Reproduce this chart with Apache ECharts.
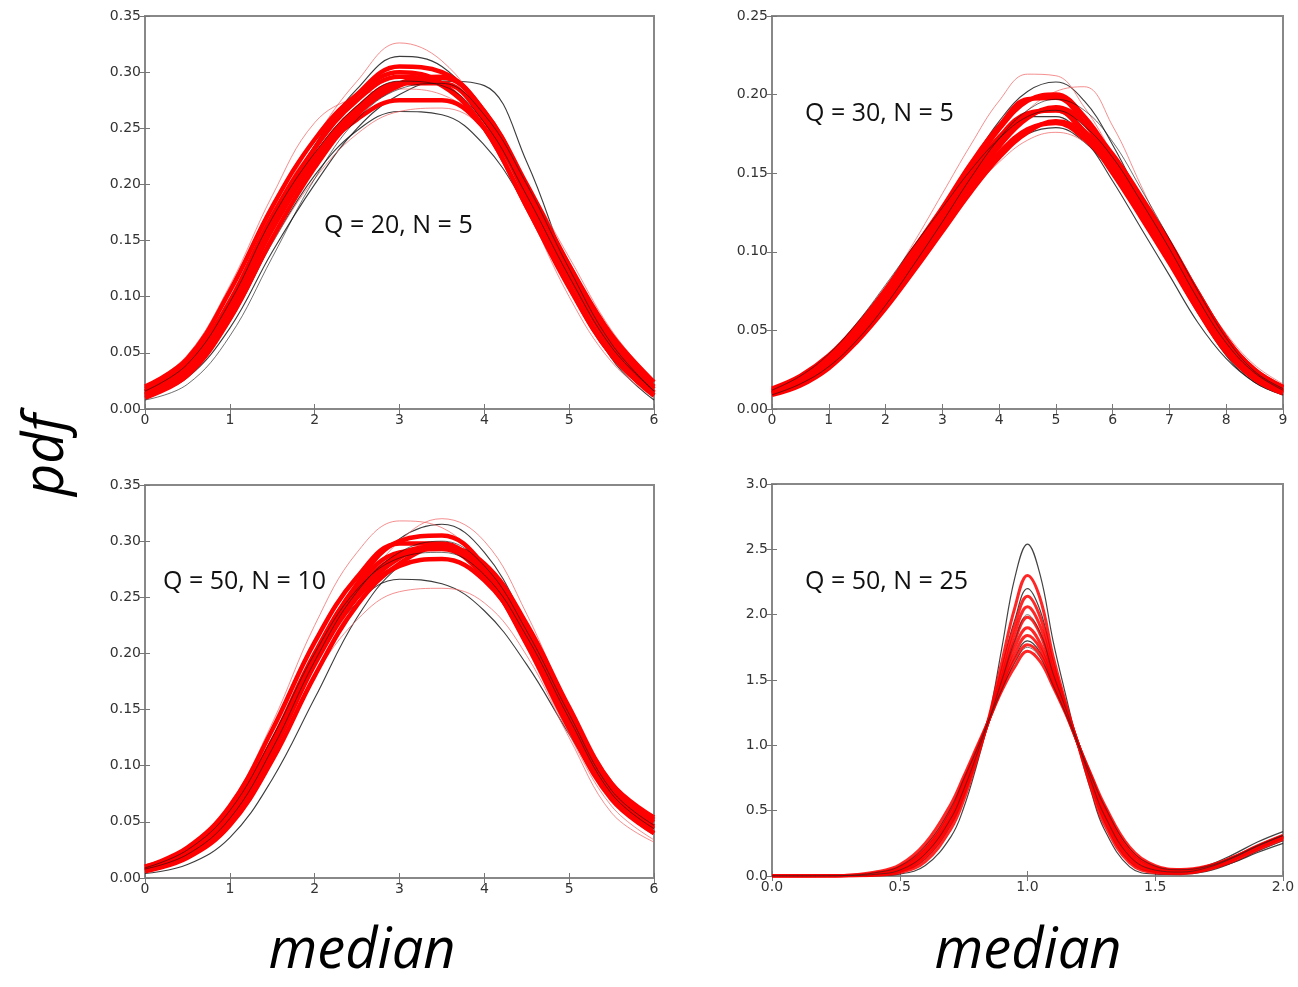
<!DOCTYPE html>
<html><head><meta charset="utf-8">
<script src="https://cdn.jsdelivr.net/npm/echarts@6/dist/echarts.min.js"></script>
<style>html,body{margin:0;padding:0;background:#fff}#c{width:1298px;height:987px}</style>
</head><body><div id="c"></div>
<script>
// ---------- Panel 1: Q = 20, N = 5 ----------
const panel1X = [0,0.5,1,1.5,2,2.5,3,3.5,4,4.5,5,5.5,6];
const panel1Red = [
  [0.020,0.045,0.105,0.180,0.240,0.280,0.300,0.290,0.250,0.180,0.108,0.048,0.012],
  [0.010,0.030,0.080,0.152,0.215,0.262,0.288,0.295,0.265,0.200,0.128,0.062,0.020],
  [0.018,0.042,0.095,0.165,0.222,0.258,0.275,0.275,0.250,0.195,0.128,0.066,0.024],
  [0.012,0.033,0.085,0.163,0.232,0.280,0.305,0.300,0.262,0.188,0.110,0.048,0.012],
  [0.015,0.037,0.090,0.165,0.225,0.268,0.290,0.290,0.257,0.190,0.118,0.055,0.015],
  [0.016,0.040,0.096,0.172,0.232,0.275,0.296,0.288,0.250,0.180,0.110,0.050,0.014],
  [0.013,0.034,0.086,0.160,0.220,0.265,0.290,0.296,0.265,0.198,0.125,0.060,0.018]
];
const panel1RedThin = [
  [0.015,0.040,0.095,0.172,0.240,0.292,0.326,0.310,0.260,0.180,0.100,0.042,0.010],
  [0.020,0.048,0.110,0.190,0.255,0.278,0.285,0.280,0.250,0.180,0.108,0.048,0.013],
  [0.012,0.032,0.080,0.148,0.205,0.245,0.265,0.268,0.250,0.200,0.135,0.070,0.025]
];
const panel1Black = [
  [0.010,0.028,0.072,0.140,0.200,0.250,0.280,0.292,0.288,0.220,0.122,0.045,0.008],
  [0.014,0.036,0.090,0.168,0.235,0.285,0.314,0.305,0.260,0.185,0.108,0.046,0.012],
  [0.012,0.030,0.078,0.148,0.208,0.248,0.265,0.262,0.235,0.180,0.115,0.055,0.016],
  [0.008,0.022,0.065,0.135,0.205,0.258,0.285,0.290,0.262,0.200,0.125,0.058,0.016],
  [0.016,0.040,0.095,0.170,0.228,0.270,0.292,0.288,0.255,0.190,0.118,0.055,0.016]
];

// ---------- Panel 2: Q = 30, N = 5 ----------
const panel2X = [0,0.5,1,1.5,2,2.5,3,3.5,4,4.5,5,5.5,6,6.5,7,7.5,8,8.5,9];
const panel2Red = [
  [0.013,0.021,0.034,0.053,0.076,0.102,0.128,0.156,0.180,0.197,0.198,0.182,0.156,0.125,0.095,0.063,0.036,0.019,0.010],
  [0.009,0.015,0.026,0.043,0.064,0.088,0.113,0.138,0.160,0.176,0.183,0.176,0.158,0.133,0.105,0.074,0.045,0.025,0.014],
  [0.011,0.018,0.030,0.048,0.070,0.095,0.120,0.147,0.170,0.187,0.190,0.177,0.155,0.128,0.100,0.068,0.040,0.022,0.012],
  [0.010,0.017,0.029,0.047,0.070,0.096,0.123,0.152,0.178,0.196,0.200,0.186,0.160,0.130,0.099,0.066,0.038,0.020,0.011],
  [0.012,0.020,0.032,0.050,0.071,0.095,0.118,0.142,0.163,0.178,0.182,0.172,0.152,0.127,0.100,0.070,0.043,0.024,0.013],
  [0.011,0.018,0.031,0.049,0.072,0.098,0.124,0.150,0.173,0.188,0.190,0.175,0.150,0.122,0.093,0.063,0.037,0.020,0.011],
  [0.010,0.017,0.028,0.046,0.067,0.092,0.117,0.143,0.167,0.185,0.192,0.182,0.162,0.135,0.106,0.074,0.045,0.025,0.014]
];
const panel2RedThin = [
  [0.011,0.019,0.032,0.052,0.077,0.106,0.137,0.168,0.196,0.213,0.212,0.192,0.162,0.128,0.095,0.062,0.035,0.018,0.010],
  [0.009,0.015,0.026,0.043,0.064,0.090,0.117,0.145,0.170,0.190,0.202,0.205,0.180,0.142,0.104,0.068,0.038,0.020,0.010],
  [0.012,0.020,0.032,0.050,0.071,0.094,0.116,0.138,0.157,0.171,0.176,0.170,0.153,0.130,0.104,0.075,0.048,0.028,0.016]
];
const panel2Black = [
  [0.010,0.017,0.029,0.047,0.070,0.097,0.126,0.156,0.183,0.202,0.208,0.196,0.168,0.133,0.097,0.062,0.034,0.017,0.009],
  [0.010,0.017,0.030,0.050,0.074,0.100,0.126,0.152,0.173,0.186,0.186,0.172,0.145,0.115,0.085,0.055,0.032,0.017,0.009],
  [0.012,0.020,0.033,0.051,0.073,0.097,0.120,0.143,0.162,0.175,0.179,0.170,0.150,0.125,0.098,0.070,0.044,0.025,0.014],
  [0.012,0.021,0.035,0.055,0.079,0.104,0.128,0.152,0.172,0.186,0.190,0.180,0.160,0.132,0.102,0.070,0.042,0.023,0.012],
  [0.009,0.016,0.027,0.044,0.066,0.092,0.119,0.147,0.172,0.190,0.197,0.190,0.170,0.140,0.108,0.075,0.045,0.024,0.013]
];

// ---------- Panel 3: Q = 50, N = 10 ----------
const panel3X = [0,0.5,1,1.5,2,2.5,3,3.5,4,4.5,5,5.5,6];
const panel3Red = [
  [0.010,0.027,0.064,0.132,0.210,0.268,0.298,0.298,0.270,0.208,0.133,0.070,0.040],
  [0.006,0.018,0.047,0.105,0.180,0.243,0.280,0.295,0.280,0.226,0.152,0.084,0.052],
  [0.008,0.022,0.055,0.118,0.195,0.255,0.288,0.295,0.272,0.215,0.140,0.076,0.046],
  [0.007,0.020,0.052,0.116,0.197,0.262,0.300,0.305,0.278,0.215,0.138,0.072,0.040],
  [0.010,0.025,0.060,0.122,0.195,0.250,0.278,0.284,0.265,0.214,0.148,0.084,0.054],
  [0.008,0.023,0.057,0.122,0.200,0.260,0.290,0.293,0.268,0.210,0.138,0.074,0.044],
  [0.007,0.020,0.050,0.112,0.190,0.250,0.285,0.296,0.276,0.220,0.147,0.080,0.050]
];
const panel3RedThin = [
  [0.010,0.027,0.066,0.138,0.225,0.290,0.318,0.312,0.275,0.205,0.128,0.064,0.034],
  [0.006,0.017,0.046,0.104,0.180,0.250,0.300,0.320,0.300,0.235,0.150,0.078,0.040],
  [0.009,0.022,0.054,0.112,0.180,0.230,0.255,0.258,0.245,0.198,0.125,0.058,0.032]
];
const panel3Black = [
  [0.007,0.020,0.050,0.110,0.190,0.260,0.302,0.315,0.290,0.225,0.145,0.077,0.045],
  [0.008,0.022,0.055,0.118,0.192,0.245,0.266,0.262,0.238,0.190,0.128,0.070,0.040],
  [0.004,0.012,0.036,0.088,0.160,0.232,0.278,0.295,0.280,0.225,0.150,0.085,0.050],
  [0.009,0.025,0.060,0.125,0.200,0.257,0.285,0.290,0.270,0.215,0.142,0.075,0.044],
  [0.008,0.021,0.053,0.115,0.193,0.255,0.290,0.300,0.278,0.220,0.146,0.078,0.047]
];

// ---------- Panel 4: Q = 50, N = 25 ----------
const panel4X = [0,0.2,0.3,0.4,0.5,0.6,0.7,0.75,0.8,0.85,0.9,0.95,1.0,1.05,1.1,1.15,1.2,1.25,1.3,1.4,1.5,1.6,1.7,1.8,1.9,2.0];
const panel4Red = [
  [0,0,0.001,0.006,0.026,0.110,0.360,0.580,0.880,1.220,1.640,2.050,2.300,2.120,1.680,1.320,0.990,0.670,0.400,0.100,0.025,0.018,0.045,0.110,0.200,0.280],
  [0,0,0.001,0.009,0.035,0.140,0.400,0.620,0.900,1.210,1.570,1.920,2.140,1.980,1.620,1.300,1.000,0.700,0.440,0.120,0.035,0.024,0.052,0.120,0.210,0.290],
  [0,0,0.002,0.010,0.040,0.155,0.420,0.640,0.910,1.200,1.530,1.860,2.060,1.910,1.580,1.290,1.000,0.710,0.450,0.135,0.040,0.027,0.056,0.125,0.215,0.295],
  [0,0,0.002,0.012,0.045,0.170,0.440,0.660,0.920,1.200,1.500,1.800,1.980,1.850,1.550,1.280,1.000,0.720,0.470,0.150,0.045,0.030,0.060,0.130,0.220,0.300],
  [0,0,0.003,0.015,0.052,0.185,0.460,0.680,0.930,1.200,1.480,1.750,1.900,1.780,1.520,1.270,1.000,0.730,0.490,0.165,0.052,0.034,0.063,0.132,0.222,0.302],
  [0,0,0.004,0.018,0.060,0.200,0.480,0.700,0.940,1.200,1.460,1.700,1.840,1.740,1.500,1.260,1.000,0.740,0.500,0.180,0.060,0.040,0.067,0.135,0.225,0.305],
  [0,0.001,0.005,0.022,0.070,0.220,0.510,0.730,0.960,1.200,1.440,1.650,1.770,1.690,1.470,1.250,1.000,0.760,0.530,0.200,0.070,0.045,0.070,0.138,0.228,0.308],
  [0,0.001,0.006,0.028,0.085,0.250,0.550,0.760,0.980,1.200,1.420,1.600,1.720,1.640,1.450,1.240,1.000,0.770,0.550,0.220,0.080,0.050,0.075,0.140,0.230,0.310]
];
const panel4Black = [
  [0,0,0,0.003,0.015,0.080,0.300,0.520,0.840,1.220,1.750,2.280,2.540,2.300,1.800,1.380,0.980,0.640,0.360,0.070,0.015,0.012,0.035,0.100,0.190,0.270],
  [0,0.001,0.004,0.020,0.066,0.210,0.500,0.720,0.950,1.200,1.450,1.670,1.800,1.710,1.480,1.250,1.000,0.750,0.520,0.190,0.065,0.042,0.078,0.160,0.260,0.340],
  [0,0,0.001,0.008,0.032,0.130,0.390,0.610,0.890,1.210,1.600,1.960,2.200,2.030,1.650,1.310,1.000,0.690,0.420,0.110,0.030,0.022,0.050,0.100,0.180,0.250],
  [0,0.001,0.005,0.024,0.075,0.230,0.520,0.740,0.960,1.200,1.430,1.630,1.750,1.670,1.460,1.240,1.000,0.760,0.540,0.210,0.075,0.048,0.072,0.140,0.232,0.310],
  [0,0,0.002,0.012,0.045,0.170,0.440,0.660,0.920,1.200,1.500,1.800,2.000,1.860,1.550,1.280,1.000,0.720,0.470,0.150,0.045,0.030,0.062,0.135,0.228,0.310]
];

// ---------- labels ----------
const panelLabels = ['Q = 20, N = 5', 'Q = 30, N = 5', 'Q = 50, N = 10', 'Q = 50, N = 25'];
const xAxisTitle = 'median';
const yAxisTitle = 'pdf';

const grids = [
  {left:145, top:16, width:509, height:393},
  {left:772, top:16, width:511, height:393},
  {left:145, top:485, width:509, height:393},
  {left:772, top:484, width:511, height:392}
];
const xRanges = [[0,6,1,0],[0,9,1,0],[0,6,1,0],[0,2,0.5,1]];
const yRanges = [[0,0.35,0.05,2],[0,0.25,0.05,2],[0,0.35,0.05,2],[0,3,0.5,1]];

const tickStyle = {show:true, inside:true, length:5, lineStyle:{color:'#777', width:1}};
const labelStyle = {color:'#333', fontSize:14, fontFamily:'DejaVu Sans'};

const xAxes = [], yAxes = [];
grids.forEach((g, gi) => {
  const xr = xRanges[gi], yr = yRanges[gi];
  ['bottom','top'].forEach((pos, k) => {
    xAxes.push({type:'value', gridIndex:gi, position:pos, min:xr[0], max:xr[1], interval:xr[2],
      axisLine:{show:false}, axisTick:tickStyle, splitLine:{show:false},
      axisLabel: k === 0 ? Object.assign({show:true, margin:4, formatter: v => v.toFixed(xr[3])}, labelStyle) : {show:false}});
  });
  ['left','right'].forEach((pos, k) => {
    yAxes.push({type:'value', gridIndex:gi, position:pos, min:yr[0], max:yr[1], interval:yr[2],
      axisLine:{show:false}, axisTick:tickStyle, splitLine:{show:false},
      axisLabel: k === 0 ? Object.assign({show:true, margin:4, formatter: v => v.toFixed(yr[3])}, labelStyle) : {show:false}});
  });
});

const series = [];
function addLine(xs, ys, gi, style, z) {
  series.push({type:'line', xAxisIndex:gi*2, yAxisIndex:gi*2, data: xs.map((x,i)=>[x, ys[i]]),
    smooth:0.4, showSymbol:false, symbol:'none', silent:true,
    lineStyle: style, z: z, animation:false});
}
const blackUnder = {color:'#1a1a1a', width:1.1, opacity:0.85};
const blackOver = {color:'#111', width:1, opacity:0.6};
const redThick = {color:'#ff0000', width:4.5, opacity:1};
const redThin = {color:'#f06060', width:1, opacity:0.7};

const panels = [
  [panel1X, panel1Red, panel1RedThin, panel1Black],
  [panel2X, panel2Red, panel2RedThin, panel2Black],
  [panel3X, panel3Red, panel3RedThin, panel3Black]
];
panels.forEach((p, gi) => {
  const [xs, reds, thins, blacks] = p;
  blacks.slice(0,3).forEach(ys => addLine(xs, ys, gi, blackUnder, 2));
  thins.forEach(ys => addLine(xs, ys, gi, redThin, 3));
  reds.forEach(ys => addLine(xs, ys, gi, redThick, 4));
  blacks.slice(3).forEach(ys => addLine(xs, ys, gi, blackOver, 5));
});
// panel 4
panel4Black.slice(0,3).forEach(ys => addLine(panel4X, ys, 3, {color:'#222', width:1.2, opacity:0.85}, 2));
panel4Red.forEach(ys => addLine(panel4X, ys, 3, {color:'#ff0000', width:3, opacity:0.85}, 4));
panel4Black.slice(3).forEach(ys => addLine(panel4X, ys, 3, {color:'#222', width:1, opacity:0.6}, 5));

const labelPos = [[324,226],[805,114],[163,582],[805,582]];
const graphics = labelPos.map((p, i) => ({type:'text', x:p[0], y:p[1], z:10,
  style:{text:panelLabels[i], font:'25px "Open Sans"', fill:'#111', align:'left', verticalAlign:'middle'}}));
graphics.push({type:'text', x:47, y:455, rotation:Math.PI/2, z:10,
  style:{text:yAxisTitle, font:'italic 56px "Open Sans"', fill:'#000', align:'center', verticalAlign:'middle'}});
[362, 1028].forEach(cx => graphics.push({type:'text', x:cx, y:952, z:10,
  style:{text:xAxisTitle, font:'italic 56px "Open Sans"', fill:'#000', align:'center', verticalAlign:'middle'}}));

const chart = echarts.init(document.getElementById('c'), null, {renderer:'canvas'});
chart.setOption({
  animation:false,
  backgroundColor:'#fff',
  grid: grids.map(g => Object.assign({show:true, borderColor:'#888', borderWidth:2, backgroundColor:'transparent', containLabel:false}, g)),
  xAxis: xAxes,
  yAxis: yAxes,
  series: series,
  graphic: graphics
});
</script>
</body></html>
